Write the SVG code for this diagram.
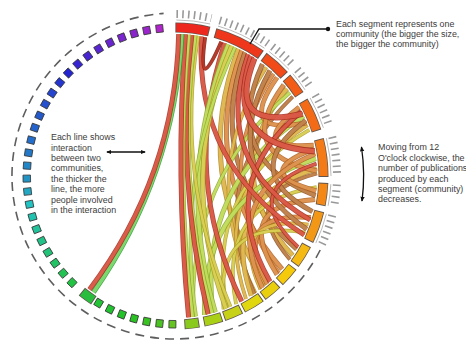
<svg xmlns="http://www.w3.org/2000/svg" width="466" height="341" viewBox="0 0 466 341">
<style>
text{font-family:"Liberation Sans",Arial,sans-serif;font-size:8.9px;fill:#3c3c3c}
.so{fill:none;stroke:#3a2a20;stroke-opacity:.8;stroke-width:10}
.sf{fill:none;stroke-width:8.5}
.sq{stroke:#333;stroke-width:.8}
.tk{fill:none;stroke:#999;stroke-width:8;stroke-dasharray:1.6 4.2}
.ax{fill:none;stroke:#9a9a9a;stroke-width:.7}
.dash{fill:none;stroke:#5e5e5e;stroke-width:1.6;stroke-dasharray:9 6}
.ol{fill:none;stroke-opacity:.85}
.fl{fill:none;stroke-opacity:.85}
.ol.w2{stroke-width:3.8}.fl.w2{stroke-width:2.5}
.ol.w3{stroke-width:5}.fl.w3{stroke-width:3.5}
.ol.w4{stroke-width:6.2}.fl.w4{stroke-width:4.6}
.ol.r{stroke:#a3281b}.fl.r{stroke:#e2604c}
.ol.dr{stroke:#7a1a10}.fl.dr{stroke:#bf3a28}
.ol.g{stroke:#2e9a2c}.fl.g{stroke:#82e274}
.ol.l{stroke:#8aa62a}.fl.l{stroke:#c9e464}
.ol.y{stroke:#a49a20}.fl.y{stroke:#e0d65a}
.ol.gd{stroke:#ac841e}.fl.gd{stroke:#e8c058}
.ol.o{stroke:#ad5e1e}.fl.o{stroke:#e49a56}
.ol.b{stroke:#8c4e1e}.fl.b{stroke:#c98a52}
.ptr{fill:none;stroke:#111;stroke-width:1.3}
</style>
<defs>
<marker id="ah" viewBox="0 0 6 6" refX="5" refY="3" markerWidth="4" markerHeight="4" orient="auto-start-reverse"><path d="M0,0.5L6,3L0,5.5z" fill="#111"/></marker>
<path id="ring" pathLength="360" d="M175,27.5A148.5,148.5 0 1 1 175,324.5A148.5,148.5 0 1 1 175,27.5"/>
<path id="t1" d="M176.4,14A162,162 0 0 1 211.4,18.1"/>
<path id="t2" d="M219.6,20.3A162,162 0 0 1 267.9,43.3"/>
<path id="t3" d="M272.5,46.6A162,162 0 0 1 293.5,65.5"/>
<path id="t4" d="M297.3,69.7A162,162 0 0 1 310.1,86.6"/>
<path id="t5" d="M315.3,95A162,162 0 0 1 329.1,125.9"/>
<path id="t6" d="M332.2,136.8A162,162 0 0 1 337,176"/>
<path id="t7" d="M336.8,184.5A162,162 0 0 1 334,206.9"/>
<path id="t8" d="M332.2,215.2A162,162 0 0 1 321.2,245.7"/>
<path id="cA1" d="M178.7,34Q175,176 89.5,289.4"/>
<path id="cA2" d="M181.9,34.2Q175,176 93.5,292.3"/>
<path id="cA3" d="M185.4,34.4Q175,176 188.6,317.3"/>
<path id="cA4" d="M188.6,34.7Q175,176 192.3,316.9"/>
<path id="cA5" d="M191.8,35Q175,176 208.1,314.1"/>
<path id="cA6" d="M195,35.4Q175,176 211.8,313.2"/>
<path id="cA7" d="M198.2,35.9Q175,176 230.5,306.7"/>
<path id="cA8" d="M201.4,36.5Q194.5,165.9 304.2,234.9"/>
<path id="cA9" d="M205.2,37.3Q196.9,98 221.2,41.7"/>
<path id="cB1" d="M224.7,43Q180.2,175.7 241.7,301.4"/>
<path id="cB2" d="M228.2,44.3Q175,176 215.3,312.1"/>
<path id="cB3" d="M231.6,45.8Q177,176 225.9,308.6"/>
<path id="cB4" d="M235,47.3Q175,176 196,316.4"/>
<path id="cB5" d="M238.4,48.9Q191,174.1 266.3,284.8"/>
<path id="cB6" d="M241.7,50.6Q197.1,171.9 282.2,269.2"/>
<path id="cB7" d="M244.9,52.4Q203.5,168.5 296.7,249.1"/>
<path id="cB8" d="M248.1,54.3Q210.9,162.6 310.1,219.9"/>
<path id="cB9" d="M251.3,56.2Q221.8,144.7 314.8,151.3"/>
<path id="cB10" d="M254.4,58.3Q225.5,132.1 302.6,113.7"/>
<path id="cC1" d="M262.4,64.1Q220.2,157.8 315.6,195.8"/>
<path id="cC2" d="M266.3,67.2Q196.6,176.8 255.4,293"/>
<path id="cC3" d="M270,70.5Q216.5,166.4 306.7,229.2"/>
<path id="cC4" d="M273.6,73.9Q206,175.2 278.9,272.8"/>
<path id="cC5" d="M277.1,77.4Q235.2,136.9 306.7,122.8"/>
<path id="cD1" d="M283.8,84.7Q233,153.7 316.9,171"/>
<path id="cD2" d="M286.9,88.6Q216.4,174.6 292.7,255.4"/>
<path id="cD3" d="M289.9,92.5Q187,181.2 193.5,316.8"/>
<path id="cD4" d="M292.7,96.6Q204.8,181.8 254.4,293.7"/>
<path id="cE1" d="M299.2,107.2Q245.3,149.4 313.6,145.3"/>
<path id="cE2" d="M301.5,111.5Q213.9,183.2 270,281.5"/>
<path id="cE3" d="M303.7,116Q197.3,186.3 212.9,312.8"/>
<path id="cE4" d="M305.7,120.5Q237.2,171.4 312.5,211.6"/>
<path id="cE5" d="M307.6,125.1Q208.8,188 246,299"/>
<path id="cE6" d="M309.3,129.8Q204.1,189.4 226.8,308.2"/>
<path id="cF1" d="M314.4,148.9Q249.8,172.7 316.2,190.8"/>
<path id="cF2" d="M315.3,153.8Q219.8,193.6 262.4,287.9"/>
<path id="cF3" d="M315.9,158.7Q202.3,195.5 204.5,314.9"/>
<path id="cF4" d="M316.5,163.6Q237.4,189.8 298,247"/>
<path id="cF5" d="M316.8,168.6Q218,198.2 251.3,295.8"/>
<path id="cF6" d="M317,173.5Q234.8,194.9 289.9,259.5"/>
<path id="cG1" d="M316.6,187.1Q216.2,203.6 236.1,304.2"/>
<path id="cG2" d="M315.1,199.4Q232.3,204.9 277.1,274.6"/>
<path id="cH1" d="M310.8,217.5Q229.5,211.9 267.2,284"/>
<path id="cH2" d="M308.4,224.6Q227.3,214.7 260.5,289.4"/>
<path id="cH3" d="M305.2,232.6Q214,217.4 223.6,309.4"/>
</defs>
<rect width="466" height="341" fill="#fff"/>
<path class="dash" d="M320.2,250A163,163 0 1 1 163.6,13.4"/>

<g id="connectors">
<use href="#cB5" class="ol gd w3"/><use href="#cB5" class="fl gd w3"/>
<use href="#cB6" class="ol o w3"/><use href="#cB6" class="fl o w3"/>
<use href="#cB7" class="ol b w3"/><use href="#cB7" class="fl b w3"/>
<use href="#cC2" class="ol gd w2"/><use href="#cC2" class="fl gd w2"/>
<use href="#cC4" class="ol o w2"/><use href="#cC4" class="fl o w2"/>
<use href="#cD2" class="ol gd w3"/><use href="#cD2" class="fl gd w3"/>
<use href="#cD4" class="ol b w2"/><use href="#cD4" class="fl b w2"/>
<use href="#cE5" class="ol gd w2"/><use href="#cE5" class="fl gd w2"/>
<use href="#cE6" class="ol y w2"/><use href="#cE6" class="fl y w2"/>
<use href="#cF5" class="ol gd w3"/><use href="#cF5" class="fl gd w3"/>
<use href="#cF6" class="ol b w2"/><use href="#cF6" class="fl b w2"/>
<use href="#cG1" class="ol y w2"/><use href="#cG1" class="fl y w2"/>
<use href="#cG2" class="ol o w3"/><use href="#cG2" class="fl o w3"/>
<use href="#cH1" class="ol o w3"/><use href="#cH1" class="fl o w3"/>
<use href="#cH2" class="ol gd w2"/><use href="#cH2" class="fl gd w2"/>
<use href="#cH3" class="ol y w2"/><use href="#cH3" class="fl y w2"/>
<use href="#cE3" class="ol l w3"/><use href="#cE3" class="fl l w3"/>
<use href="#cF3" class="ol l w3"/><use href="#cF3" class="fl l w3"/>
<use href="#cD3" class="ol l w2"/><use href="#cD3" class="fl l w2"/>
<use href="#cC1" class="ol b w3"/><use href="#cC1" class="fl b w3"/>
<use href="#cC3" class="ol b w3"/><use href="#cC3" class="fl b w3"/>
<use href="#cC5" class="ol o w3"/><use href="#cC5" class="fl o w3"/>
<use href="#cD1" class="ol o w3"/><use href="#cD1" class="fl o w3"/>
<use href="#cE1" class="ol o w3"/><use href="#cE1" class="fl o w3"/>
<use href="#cE4" class="ol b w3"/><use href="#cE4" class="fl b w3"/>
<use href="#cF1" class="ol o w3"/><use href="#cF1" class="fl o w3"/>
<use href="#cF2" class="ol o w3"/><use href="#cF2" class="fl o w3"/>
<use href="#cE2" class="ol r w3"/><use href="#cE2" class="fl r w3"/>
<use href="#cF4" class="ol r w2"/><use href="#cF4" class="fl r w2"/>
<use href="#cB8" class="ol r w3"/><use href="#cB8" class="fl r w3"/>
<use href="#cB9" class="ol r w4"/><use href="#cB9" class="fl r w4"/>
<use href="#cB10" class="ol r w4"/><use href="#cB10" class="fl r w4"/>
<use href="#cA8" class="ol r w3"/><use href="#cA8" class="fl r w3"/>
<use href="#cB1" class="ol r w3"/><use href="#cB1" class="fl r w3"/>
<use href="#cB2" class="ol l w3"/><use href="#cB2" class="fl l w3"/>
<use href="#cB3" class="ol y w3"/><use href="#cB3" class="fl y w3"/>
<use href="#cB4" class="ol l w2"/><use href="#cB4" class="fl l w2"/>
<use href="#cA7" class="ol y w2"/><use href="#cA7" class="fl y w2"/>
<use href="#cA6" class="ol l w3"/><use href="#cA6" class="fl l w3"/>
<use href="#cA5" class="ol r w3"/><use href="#cA5" class="fl r w3"/>
<use href="#cA4" class="ol l w3"/><use href="#cA4" class="fl l w3"/>
<use href="#cA3" class="ol r w3"/><use href="#cA3" class="fl r w3"/>
<use href="#cA2" class="ol g w3"/><use href="#cA2" class="fl g w3"/>
<use href="#cA1" class="ol r w3"/><use href="#cA1" class="fl r w3"/>
<use href="#cA9" class="ol dr w2"/><use href="#cA9" class="fl dr w2"/>
</g>

<g id="segments">
<g id="seg-01"><use href="#t1" class="tk"/><use href="#t1" class="ax" transform="matrix(.963 0 0 .963 6.48 6.51)"/><use href="#ring" class="so" style="stroke-dasharray:13.2 400;stroke-dashoffset:-0.15"/><use href="#ring" class="sf" style="stroke:hsl(3,85%,52%);stroke-dasharray:12.5 400;stroke-dashoffset:-0.5"/></g>
<g id="seg-02"><use href="#t2" class="tk"/><use href="#t2" class="ax" transform="matrix(.963 0 0 .963 6.48 6.51)"/><use href="#ring" class="so" style="stroke-dasharray:19.7 400;stroke-dashoffset:-15.65"/><use href="#ring" class="sf" style="stroke:hsl(8,86%,52%);stroke-dasharray:19 400;stroke-dashoffset:-16"/></g>
<g id="seg-03"><use href="#t3" class="tk"/><use href="#t3" class="ax" transform="matrix(.963 0 0 .963 6.48 6.51)"/><use href="#ring" class="so" style="stroke-dasharray:10.7 400;stroke-dashoffset:-36.65"/><use href="#ring" class="sf" style="stroke:hsl(14,88%,52%);stroke-dasharray:10 400;stroke-dashoffset:-37"/></g>
<g id="seg-04"><use href="#t4" class="tk"/><use href="#t4" class="ax" transform="matrix(.963 0 0 .963 6.48 6.51)"/><use href="#ring" class="so" style="stroke-dasharray:8.2 400;stroke-dashoffset:-48.65"/><use href="#ring" class="sf" style="stroke:hsl(19,90%,52%);stroke-dasharray:7.5 400;stroke-dashoffset:-49"/></g>
<g id="seg-05"><use href="#t5" class="tk"/><use href="#t5" class="ax" transform="matrix(.963 0 0 .963 6.48 6.51)"/><use href="#ring" class="so" style="stroke-dasharray:12.7 400;stroke-dashoffset:-59.65"/><use href="#ring" class="sf" style="stroke:hsl(23,90%,52%);stroke-dasharray:12 400;stroke-dashoffset:-60"/></g>
<g id="seg-06"><use href="#t6" class="tk"/><use href="#t6" class="ax" transform="matrix(.963 0 0 .963 6.48 6.51)"/><use href="#ring" class="so" style="stroke-dasharray:14.7 400;stroke-dashoffset:-75.65"/><use href="#ring" class="sf" style="stroke:hsl(27,90%,52%);stroke-dasharray:14 400;stroke-dashoffset:-76"/></g>
<g id="seg-07"><use href="#t7" class="tk"/><use href="#t7" class="ax" transform="matrix(.963 0 0 .963 6.48 6.51)"/><use href="#ring" class="so" style="stroke-dasharray:8.7 400;stroke-dashoffset:-92.65"/><use href="#ring" class="sf" style="stroke:hsl(31,90%,52%);stroke-dasharray:8 400;stroke-dashoffset:-93"/></g>
<g id="seg-08"><use href="#t8" class="tk"/><use href="#t8" class="ax" transform="matrix(.963 0 0 .963 6.48 6.51)"/><use href="#ring" class="so" style="stroke-dasharray:12.2 400;stroke-dashoffset:-103.65"/><use href="#ring" class="sf" style="stroke:hsl(35,90%,52%);stroke-dasharray:11.5 400;stroke-dashoffset:-104"/></g>
<g id="seg-09"><use href="#ring" class="so" style="stroke-dasharray:8.7 400;stroke-dashoffset:-117.65"/><use href="#ring" class="sf" style="stroke:hsl(44,92%,52%);stroke-dasharray:8 400;stroke-dashoffset:-118"/></g>
<g id="seg-10"><use href="#ring" class="so" style="stroke-dasharray:7.7 400;stroke-dashoffset:-127.65"/><use href="#ring" class="sf" style="stroke:hsl(49,92%,50%);stroke-dasharray:7 400;stroke-dashoffset:-128"/></g>
<g id="seg-11"><use href="#ring" class="so" style="stroke-dasharray:7.2 400;stroke-dashoffset:-136.65"/><use href="#ring" class="sf" style="stroke:hsl(53,90%,48%);stroke-dasharray:6.5 400;stroke-dashoffset:-137"/></g>
<g id="seg-12"><use href="#ring" class="so" style="stroke-dasharray:8.2 400;stroke-dashoffset:-144.65"/><use href="#ring" class="sf" style="stroke:hsl(57,88%,47%);stroke-dasharray:7.5 400;stroke-dashoffset:-145"/></g>
<g id="seg-13"><use href="#ring" class="so" style="stroke-dasharray:7.2 400;stroke-dashoffset:-153.65"/><use href="#ring" class="sf" style="stroke:hsl(63,82%,45%);stroke-dasharray:6.5 400;stroke-dashoffset:-154"/></g>
<g id="seg-14"><use href="#ring" class="so" style="stroke-dasharray:7.2 400;stroke-dashoffset:-161.65"/><use href="#ring" class="sf" style="stroke:hsl(72,80%,45%);stroke-dasharray:6.5 400;stroke-dashoffset:-162"/></g>
<g id="seg-15"><use href="#ring" class="so" style="stroke-dasharray:5.7 400;stroke-dashoffset:-170.65"/><use href="#ring" class="sf" style="stroke:hsl(82,75%,45%);stroke-dasharray:5 400;stroke-dashoffset:-171"/></g>
<g id="seg-16"><use href="#ring" class="so" style="stroke-dasharray:5.7 400;stroke-dashoffset:-213.15"/><use href="#ring" class="sf" style="stroke:hsl(128,65%,45%);stroke-dasharray:5 400;stroke-dashoffset:-213.5"/></g>
<g id="sq-181" transform="rotate(181 175 176)"><rect class="sq" x="171.5" y="24" width="7" height="7.5" style="fill:hsl(95,70%,45%)"/></g>
<g id="sq-186" transform="rotate(186 175 176)"><rect class="sq" x="171.5" y="24" width="7" height="7.5" style="fill:hsl(105,70%,45%)"/></g>
<g id="sq-191" transform="rotate(191 175 176)"><rect class="sq" x="171.5" y="24" width="7" height="7.5" style="fill:hsl(112,70%,45%)"/></g>
<g id="sq-196" transform="rotate(196 175 176)"><rect class="sq" x="171.5" y="24" width="7" height="7.5" style="fill:hsl(118,70%,45%)"/></g>
<g id="sq-201" transform="rotate(201 175 176)"><rect class="sq" x="171.5" y="24" width="7" height="7.5" style="fill:hsl(122,70%,45%)"/></g>
<g id="sq-206" transform="rotate(206 175 176)"><rect class="sq" x="171.5" y="24" width="7" height="7.5" style="fill:hsl(125,70%,45%)"/></g>
<g id="sq-211" transform="rotate(211 175 176)"><rect class="sq" x="171.5" y="24" width="7" height="7.5" style="fill:hsl(127,70%,45%)"/></g>
<g id="sq-224" transform="rotate(224 175 176)"><rect class="sq" x="171.5" y="24" width="7" height="7.5" style="fill:hsl(132,70%,45%)"/></g>
<g id="sq-229" transform="rotate(229 175 176)"><rect class="sq" x="171.5" y="24" width="7" height="7.5" style="fill:hsl(138,70%,45%)"/></g>
<g id="sq-234" transform="rotate(234 175 176)"><rect class="sq" x="171.5" y="24" width="7" height="7.5" style="fill:hsl(145,70%,45%)"/></g>
<g id="sq-239" transform="rotate(239 175 176)"><rect class="sq" x="171.5" y="24" width="7" height="7.5" style="fill:hsl(152,70%,45%)"/></g>
<g id="sq-244" transform="rotate(244 175 176)"><rect class="sq" x="171.5" y="24" width="7" height="7.5" style="fill:hsl(158,70%,45%)"/></g>
<g id="sq-249" transform="rotate(249 175 176)"><rect class="sq" x="171.5" y="24" width="7" height="7.5" style="fill:hsl(165,70%,45%)"/></g>
<g id="sq-254" transform="rotate(254 175 176)"><rect class="sq" x="171.5" y="24" width="7" height="7.5" style="fill:hsl(172,70%,45%)"/></g>
<g id="sq-259" transform="rotate(259 175 176)"><rect class="sq" x="171.5" y="24" width="7" height="7.5" style="fill:hsl(180,70%,45%)"/></g>
<g id="sq-264" transform="rotate(264 175 176)"><rect class="sq" x="171.5" y="24" width="7" height="7.5" style="fill:hsl(190,70%,45%)"/></g>
<g id="sq-269" transform="rotate(269 175 176)"><rect class="sq" x="171.5" y="24" width="7" height="7.5" style="fill:hsl(198,70%,45%)"/></g>
<g id="sq-274" transform="rotate(274 175 176)"><rect class="sq" x="171.5" y="24" width="7" height="7.5" style="fill:hsl(204,70%,46%)"/></g>
<g id="sq-279" transform="rotate(279 175 176)"><rect class="sq" x="171.5" y="24" width="7" height="7.5" style="fill:hsl(209,70%,46%)"/></g>
<g id="sq-284" transform="rotate(284 175 176)"><rect class="sq" x="171.5" y="24" width="7" height="7.5" style="fill:hsl(213,70%,47%)"/></g>
<g id="sq-289" transform="rotate(289 175 176)"><rect class="sq" x="171.5" y="24" width="7" height="7.5" style="fill:hsl(217,70%,47%)"/></g>
<g id="sq-294" transform="rotate(294 175 176)"><rect class="sq" x="171.5" y="24" width="7" height="7.5" style="fill:hsl(221,70%,47%)"/></g>
<g id="sq-299" transform="rotate(299 175 176)"><rect class="sq" x="171.5" y="24" width="7" height="7.5" style="fill:hsl(225,70%,48%)"/></g>
<g id="sq-304" transform="rotate(304 175 176)"><rect class="sq" x="171.5" y="24" width="7" height="7.5" style="fill:hsl(229,70%,48%)"/></g>
<g id="sq-309" transform="rotate(309 175 176)"><rect class="sq" x="171.5" y="24" width="7" height="7.5" style="fill:hsl(234,70%,48%)"/></g>
<g id="sq-314" transform="rotate(314 175 176)"><rect class="sq" x="171.5" y="24" width="7" height="7.5" style="fill:hsl(240,70%,48%)"/></g>
<g id="sq-319" transform="rotate(319 175 176)"><rect class="sq" x="171.5" y="24" width="7" height="7.5" style="fill:hsl(246,70%,48%)"/></g>
<g id="sq-324" transform="rotate(324 175 176)"><rect class="sq" x="171.5" y="24" width="7" height="7.5" style="fill:hsl(252,70%,48%)"/></g>
<g id="sq-329" transform="rotate(329 175 176)"><rect class="sq" x="171.5" y="24" width="7" height="7.5" style="fill:hsl(258,70%,48%)"/></g>
<g id="sq-334" transform="rotate(334 175 176)"><rect class="sq" x="171.5" y="24" width="7" height="7.5" style="fill:hsl(264,70%,48%)"/></g>
<g id="sq-339" transform="rotate(339 175 176)"><rect class="sq" x="171.5" y="24" width="7" height="7.5" style="fill:hsl(270,70%,48%)"/></g>
<g id="sq-344" transform="rotate(344 175 176)"><rect class="sq" x="171.5" y="24" width="7" height="7.5" style="fill:hsl(276,70%,47%)"/></g>
<g id="sq-349" transform="rotate(349 175 176)"><rect class="sq" x="171.5" y="24" width="7" height="7.5" style="fill:hsl(283,70%,47%)"/></g>
<g id="sq-354" transform="rotate(354 175 176)"><rect class="sq" x="171.5" y="24" width="7" height="7.5" style="fill:hsl(290,70%,47%)"/></g>
</g>

<g id="note-segment">
<path class="ptr" d="M328,29H259L250,44"/>
<circle cx="328" cy="29" r="2.2" fill="#111"/>
<text x="336" y="26.5">Each segment represents one</text>
<text x="336" y="36.5">community (the bigger the size,</text>
<text x="336" y="46.5">the bigger the community)</text>
</g>
<g id="note-line">
<path class="ptr" d="M107,152H145" marker-start="url(#ah)" marker-end="url(#ah)"/>
<text x="51" y="140.2">Each line shows</text>
<text x="51" y="150.6">interaction</text>
<text x="51" y="161">between two</text>
<text x="51" y="171.4">communities,</text>
<text x="51" y="181.8">the thicker the</text>
<text x="51" y="192.2">line, the more</text>
<text x="51" y="202.6">people involved</text>
<text x="51" y="213">in the interaction</text>
</g>
<g id="note-order">
<path class="ptr" d="M361.5,147Q365.5,174 362,201" marker-start="url(#ah)" marker-end="url(#ah)"/>
<text x="378" y="150.3">Moving from 12</text>
<text x="378" y="160.7">O'clock clockwise, the</text>
<text x="378" y="171.1">number of publications</text>
<text x="378" y="181.5">produced by each</text>
<text x="378" y="191.9">segment (community)</text>
<text x="378" y="202.3">decreases.</text>
</g>
</svg>
